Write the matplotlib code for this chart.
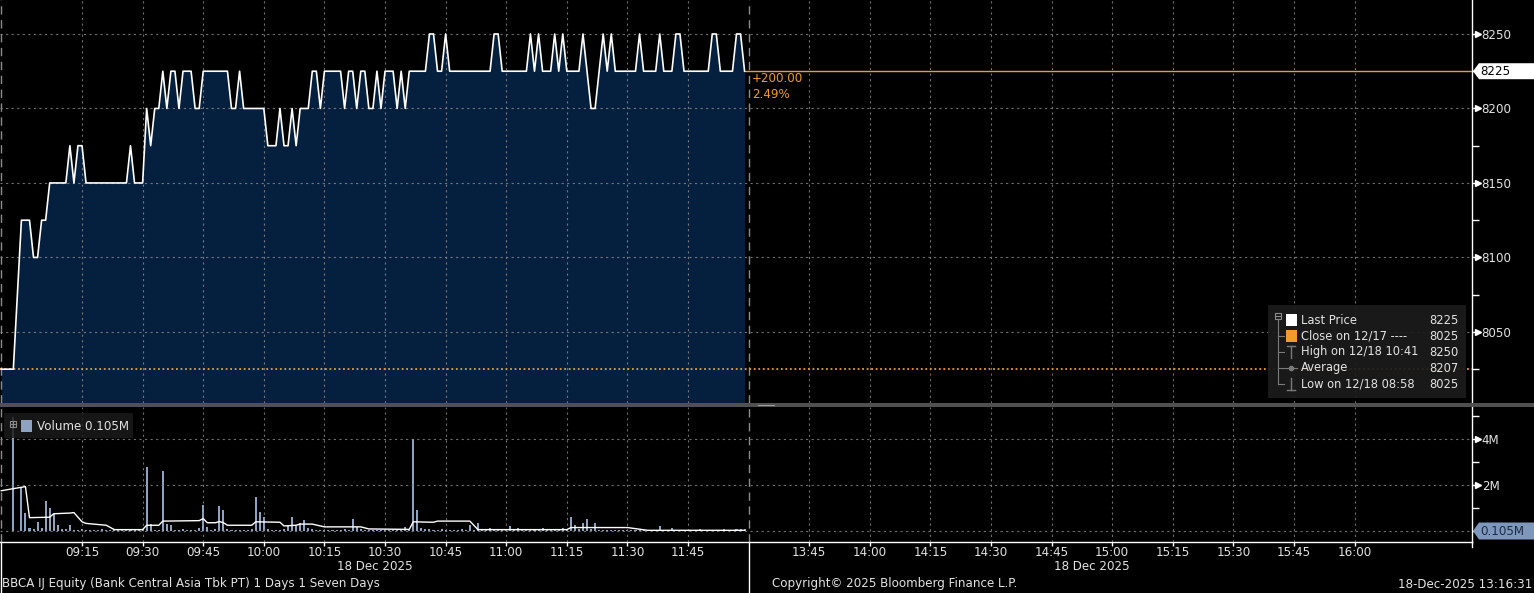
import matplotlib
matplotlib.use('Agg')
import matplotlib.pyplot as plt
import matplotlib.transforms as mtrans
from matplotlib.patches import Rectangle, Polygon
from matplotlib.lines import Line2D
from matplotlib.ticker import MultipleLocator, FixedLocator
import numpy as np

plt.rcParams['font.family'] = ['DejaVu Sans']

# ---------------- data ----------------
price_times = ["08:55", "08:58", "09:00", "09:02", "09:03", "09:04", "09:05", "09:06", "09:07", "09:11",
               "09:12", "09:13", "09:14", "09:15", "09:16", "09:26", "09:27", "09:28", "09:30", "09:31",
               "09:32", "09:33", "09:34", "09:35", "09:36", "09:37", "09:38", "09:39", "09:40", "09:42",
               "09:43", "09:44", "09:45", "09:51", "09:52", "09:53", "09:54", "09:55", "10:00", "10:01",
               "10:03", "10:04", "10:05", "10:06", "10:07", "10:08", "10:09", "10:11", "10:12", "10:13",
               "10:14", "10:15", "10:19", "10:20", "10:21", "10:22", "10:23", "10:24", "10:25", "10:26",
               "10:27", "10:28", "10:29", "10:30", "10:32", "10:33", "10:34", "10:35", "10:36", "10:40",
               "10:41", "10:42", "10:43", "10:44", "10:45", "10:46", "10:56", "10:57", "10:58", "10:59",
               "11:05", "11:06", "11:07", "11:08", "11:09", "11:11", "11:12", "11:13", "11:14", "11:15",
               "11:18", "11:19", "11:21", "11:22", "11:24", "11:25", "11:26", "11:27", "11:32", "11:33",
               "11:34", "11:37", "11:38", "11:39", "11:41", "11:42", "11:43", "11:44", "11:50", "11:51",
               "11:52", "11:53", "11:56", "11:57", "11:58", "11:59"]
price_vals = [8025, 8025, 8125, 8125, 8100, 8100, 8125, 8125, 8150, 8150,
              8175, 8150, 8175, 8175, 8150, 8150, 8175, 8150, 8150, 8200,
              8175, 8200, 8200, 8225, 8200, 8225, 8225, 8200, 8225, 8225,
              8200, 8200, 8225, 8225, 8200, 8200, 8225, 8200, 8200, 8175,
              8175, 8200, 8175, 8175, 8200, 8175, 8200, 8200, 8225, 8225,
              8200, 8225, 8225, 8200, 8225, 8225, 8200, 8225, 8225, 8200,
              8200, 8225, 8200, 8225, 8225, 8200, 8225, 8200, 8225, 8225,
              8250, 8250, 8225, 8225, 8250, 8225, 8225, 8250, 8250, 8225,
              8225, 8250, 8225, 8250, 8225, 8225, 8250, 8225, 8250, 8225,
              8225, 8250, 8200, 8200, 8250, 8225, 8250, 8225, 8225, 8250,
              8225, 8225, 8250, 8225, 8225, 8250, 8250, 8225, 8225, 8250,
              8250, 8225, 8225, 8250, 8250, 8225]
prev_close = 8025
last_price = 8225

vol_first_time = "08:58"
vol_first = 4.95
# volumes (millions) for each minute 09:00 .. 11:59
vol_vals = [1.9, 0.8, 0.13, 0.1, 0.4, 0.13, 1.3, 1.0, 0.73, 0.28, 0.09, 0.09, 0.24, 0.06, 0.05,
            0.07, 0.05, 0.04, 0.06, 0.05, 0.07, 0.04, 0.05, 0.03, 0.04, 0.05, 0.04, 0.06, 0.05, 0.04,
            0.05, 2.8, 0.3, 0.06, 0.05, 2.6, 0.3, 0.27, 0.06, 0.05, 0.07, 0.04, 0.06, 0.05, 0.15,
            1.13, 0.18, 0.06, 0.08, 1.07, 0.93, 0.07, 0.05, 0.06, 0.04, 0.05, 0.06, 0.08, 1.48, 0.84,
            0.6, 0.07, 0.05, 0.06, 0.05, 0.08, 0.25, 0.63, 0.2, 0.36, 0.48, 0.12, 0.08, 0.06, 0.05,
            0.06, 0.05, 0.04, 0.06, 0.05, 0.07, 0.06, 0.52, 0.18, 0.07, 0.05, 0.04, 0.05, 0.06, 0.04,
            0.05, 0.04, 0.06, 0.05, 0.07, 0.18, 0.06, 4.0, 0.93, 0.12, 0.08, 0.07, 0.06, 0.05, 0.07,
            0.06, 0.05, 0.06, 0.05, 0.07, 0.06, 0.25, 0.05, 0.36, 0.06, 0.05, 0.13, 0.04, 0.05, 0.06,
            0.05, 0.22, 0.06, 0.13, 0.05, 0.06, 0.04, 0.05, 0.06, 0.13, 0.05, 0.04, 0.06, 0.05, 0.12,
            0.08, 0.63, 0.25, 0.07, 0.36, 0.52, 0.08, 0.36, 0.06, 0.05, 0.04, 0.05, 0.06, 0.04, 0.05,
            0.04, 0.05, 0.06, 0.04, 0.05, 0.03, 0.04, 0.05, 0.22, 0.04, 0.05, 0.13, 0.04, 0.03, 0.05,
            0.04, 0.06, 0.05, 0.1, 0.04, 0.05, 0.06, 0.04, 0.05, 0.08, 0.05, 0.06, 0.1, 0.08, 0.105]

vavg_times = ["08:55", "09:01", "09:02", "09:07", "09:08", "09:12", "09:13", "09:15", "09:16", "09:21",
              "09:23", "09:30", "09:31", "09:34", "09:35", "09:44", "09:45", "09:46", "09:48", "09:49",
              "09:50", "09:51", "09:57", "09:58", "10:04", "10:05", "10:08", "10:09", "10:12", "10:15",
              "10:24", "10:26", "10:36", "10:37", "10:42", "10:43", "10:51", "10:53", "11:15", "11:16",
              "11:30", "11:35", "11:59"]
vavg_vals = [1.75, 1.93, 0.58, 0.6, 0.75, 0.78, 0.8, 0.4, 0.33, 0.25,
             0.06, 0.06, 0.25, 0.25, 0.43, 0.45, 0.54, 0.36, 0.36, 0.41,
             0.36, 0.25, 0.25, 0.4, 0.38, 0.22, 0.25, 0.3, 0.3, 0.18,
             0.18, 0.09, 0.07, 0.4, 0.38, 0.43, 0.43, 0.06, 0.06, 0.15,
             0.15, 0.03, 0.03]

tick_labels = ["09:15", "09:30", "09:45", "10:00", "10:15", "10:30", "10:45", "11:00", "11:15", "11:30",
               "11:45", "13:45", "14:00", "14:15", "14:30", "14:45", "15:00", "15:15", "15:30", "15:45", "16:00"]
session_break = "12:00"
day_start = "08:55"

legend_rows = [("Last Price", "8225"), ("Close on 12/17 ---- ", "8025"), ("High on 12/18 10:41", "8250"),
               ("Average", "8207"), ("Low on 12/18 08:58", "8025")]
change_txt = "+200.00"
pct_txt = "2.49%"


def sx(t):
    h, m = map(int, t.split(':'))
    mins = h * 60 + m
    return mins - 540 if mins <= 720 else 180 + (mins - 810)


# ---------------- style ----------------
W, H = 1534, 593
BG = '#000000'
NAVY = '#05203e'
GRID = '#8a8a8a'
TXT = '#e3e3e3'
ORANGE = '#f29b2c'
VOLC = '#8ea3c2'
FS = 8.6
LFS = 8.3

fig = plt.figure(figsize=(W / 100, H / 100), dpi=100, facecolor=BG)

XMIN, XMAX = -5.3, 359.05
ax1 = fig.add_axes([0, 1 - 403 / H, 1472 / W, 403 / H])
ax2 = fig.add_axes([0, 1 - 542 / H, 1472 / W, 135 / H])

px = np.array([sx(t) for t in price_times])
py = np.array(price_vals)
YLO, YHI = 8002.3, 8272.8
VLO, VHI = -0.478, 5.39

tx = [sx(t) for t in tick_labels]

for ax in (ax1, ax2):
    ax.set_facecolor(BG)
    ax.set_xlim(XMIN, XMAX)
    for s in ('left', 'top', 'bottom'):
        ax.spines[s].set_visible(False)
    ax.spines['right'].set_color('white')
    ax.spines['right'].set_linewidth(1.0)
    ax.yaxis.tick_right()
    ax.set_xticks(tx)
    ax.set_axisbelow(False)
    ax.grid(axis='both', which='major', color=GRID, ls=(0, (2, 3)), lw=0.8, alpha=0.8)
    ax.axvline(sx(session_break), color='#8c8c8c', ls=(0, (6, 4)), lw=1.0, zorder=2.6)
    ax.axvline(sx(day_start), color='#8c8c8c', ls=(0, (6, 4)), lw=1.0, zorder=2.6)

# ---- price panel ----
ax1.set_ylim(YLO, YHI)
ax1.fill_between(px, py, YLO, color=NAVY, lw=0, zorder=1)
ax1.plot(px, py, color='white', lw=1.2, zorder=3)
ax1.axhline(prev_close, color=ORANGE, ls=(0, (1, 1.5)), lw=1.3, zorder=2.8)
ax1.plot([px[-1], XMAX], [last_price, last_price], color=ORANGE, lw=1.0, zorder=2.8)
ax1.yaxis.set_major_locator(MultipleLocator(50))
ax1.yaxis.set_minor_locator(MultipleLocator(25))
ax1.tick_params(axis='x', length=0, labelbottom=False)
ax1.tick_params(axis='y', which='major', length=5, width=1, color='white', labelcolor=TXT,
                labelsize=FS, pad=2)
ax1.tick_params(axis='y', which='minor', length=5, width=1, color='white')

trans1 = mtrans.blended_transform_factory(ax1.transAxes, ax1.transData)
for v in ax1.get_yticks():
    if YLO <= v <= YHI:
        ax1.plot([1.0 + 5.5 / 1472], [v], marker='>', ms=4.5, color='white', mec='white',
                 transform=trans1, clip_on=False, zorder=5)

# ---- volume panel ----
ax2.set_ylim(VLO, VHI)
vx = [sx(vol_first_time)] + [sx("%02d:%02d" % (9 + k // 60, k % 60)) for k in range(len(vol_vals))]
vv = [vol_first] + vol_vals
ax2.bar(vx, vv, width=0.5, color=VOLC, lw=0, zorder=2)
ax2.plot([sx(t) for t in vavg_times], vavg_vals, color='white', lw=1.0, zorder=3)
ax2.set_yticks([0, 2, 4])
ax2.set_yticklabels(['', '2M', '4M'])
ax2.yaxis.set_minor_locator(FixedLocator([1, 3, 5]))
ax2.tick_params(axis='y', which='major', length=5, width=1, color='white', labelcolor=TXT,
                labelsize=FS, pad=2)
ax2.tick_params(axis='y', which='minor', length=5, width=1, color='white')
ax2.spines['bottom'].set_visible(True)
ax2.spines['bottom'].set_color('white')
ax2.spines['bottom'].set_linewidth(1.0)
ax2.set_xticklabels(tick_labels)
ax2.tick_params(axis='x', length=3, width=1, color='white', labelcolor=TXT, labelsize=FS, pad=0)
trans2 = mtrans.blended_transform_factory(ax2.transAxes, ax2.transData)
for v in (2, 4):
    ax2.plot([1.0 + 5.5 / 1472], [v], marker='>', ms=4.5, color='white', mec='white',
             transform=trans2, clip_on=False, zorder=5)


def fp(x, y):
    return (x / W, 1 - y / H)


def fline(xs, ys, color, lw=1.0, **kw):
    fig.add_artist(Line2D([x / W for x in xs], [1 - y / H for y in ys], color=color, lw=lw,
                          transform=fig.transFigure, **kw))


def frect(x0, y0, x1, y1, color, alpha=1.0, z=10, fill=True, ec=None):
    r = Rectangle((x0 / W, 1 - y1 / H), (x1 - x0) / W, (y1 - y0) / H, transform=fig.transFigure,
                  facecolor=color if fill else 'none', edgecolor=ec if ec else 'none',
                  alpha=alpha, zorder=z, lw=0.8)
    fig.add_artist(r)


def ftext(x, y, s, **kw):
    kw.setdefault('color', TXT)
    kw.setdefault('fontsize', FS)
    kw.setdefault('va', 'center')
    fig.text(x / W, 1 - y / H, s, **kw)


# separator between panels
frect(0, 403, W, 407, '#505050', z=20)
frect(758, 404.5, 775, 405.5, '#a0a0a0', z=21)

# x axis vertical dividers
fline([0.5, 0.5], [542, 592], 'white')
fline([748.5, 748.5], [542, 592], 'white')
fline([1471.5, 1471.5], [542, 547], 'white')

# date labels & footer
ftext(375, 567, '18 Dec 2025', ha='center')
ftext(1092, 567, '18 Dec 2025', ha='center')
ftext(2, 584, 'BBCA IJ Equity (Bank Central Asia Tbk PT) 1 Days 1 Seven Days', ha='left')
ftext(772, 584, 'Copyright\u00a9 2025 Bloomberg Finance L.P.', ha='left')
ftext(1532, 584, '18-Dec-2025 13:16:31', ha='right')

# change texts
ftext(752, 78, change_txt, color=ORANGE, ha='left')
ftext(752, 95, pct_txt, color=ORANGE, ha='left')

# last price marker box on the right axis
ly = H - ax1.transData.transform((0, last_price))[1]
fig.add_artist(Polygon([fp(1473, ly), fp(1479, ly - 8), fp(1534, ly - 8), fp(1534, ly + 8), fp(1479, ly + 8)],
                       closed=True, transform=fig.transFigure, facecolor='white', edgecolor='none', zorder=30))
ftext(1480, ly, '%d' % last_price, color='black', ha='left', zorder=31)

# volume marker box
vy = H - ax2.transData.transform((0, 0))[1]
fig.add_artist(Polygon([fp(1473, vy), fp(1479, vy - 8.5), fp(1534, vy - 8.5), fp(1534, vy + 8.5), fp(1479, vy + 8.5)],
                       closed=True, transform=fig.transFigure, facecolor='#7e98bd', edgecolor='none', zorder=30))
ftext(1480, vy, '0.105M', color='#1d2a45', ha='left', zorder=31)

# price legend
frect(1268, 305, 1466, 398, '#1b1b1b', alpha=0.93, z=40)
row_y = [320, 336, 352, 368, 384]
for (lab, val), yy in zip(legend_rows, row_y):
    ftext(1301, yy, lab, ha='left', zorder=41, fontsize=LFS)
    ftext(1459, yy, val, ha='right', zorder=41, fontsize=LFS)
frect(1286, 314, 1297, 326, 'white', z=41)
frect(1286, 330, 1297, 342, ORANGE, z=41)
frect(1275, 313, 1281, 319, '#1b1b1b', z=41, fill=False, ec='#8a8a8a')
fline([1276, 1280], [316, 316], '#8a8a8a', lw=0.8, zorder=42)
LG = '#7a7a7a'
fline([1278, 1278], [319, 384], LG, lw=0.8, zorder=41)
for yy in (336, 352, 368, 384):
    fline([1278, 1284], [yy, yy], LG, lw=0.8, zorder=41)
fline([1291, 1291], [346, 358], LG, lw=1.0, zorder=41)
fline([1287, 1295], [346, 346], LG, lw=1.0, zorder=41)
fline([1285, 1297], [368, 368], LG, lw=0.8, zorder=41)
fig.add_artist(Line2D([1291 / W], [1 - 368 / H], marker='o', ms=3, color=LG, transform=fig.transFigure, zorder=42))
fline([1291, 1291], [378, 390], LG, lw=1.0, zorder=41)
fline([1287, 1295], [390, 390], LG, lw=1.0, zorder=41)

# volume legend
frect(4, 413, 133, 438, '#1b1b1b', alpha=0.85, z=40)
frect(10, 421, 16, 427, '#1b1b1b', z=41, fill=False, ec='#8a8a8a')
fline([11, 15], [424, 424], '#8a8a8a', lw=0.8, zorder=42)
fline([13, 13], [422, 426], '#8a8a8a', lw=0.8, zorder=42)
frect(21, 420, 32, 432, VOLC, z=41)
ftext(37, 427, 'Volume 0.105M', ha='left', zorder=41)

fig.savefig('out.png', dpi=100, facecolor=BG)
